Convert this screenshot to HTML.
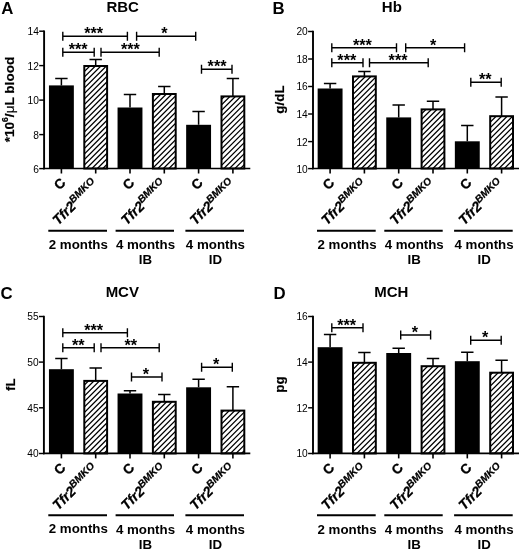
<!DOCTYPE html>
<html><head><meta charset="utf-8"><title>Figure</title>
<style>
html,body{margin:0;padding:0;background:#fff;}
svg{display:block;font-family:'Liberation Sans', Arial, Helvetica, sans-serif;}
</style></head>
<body>
<svg width="520" height="554" viewBox="0 0 520 554" font-family='"Liberation Sans", Arial, Helvetica, sans-serif' fill="#000">
<rect width="520" height="554" fill="#fff"/>
<g>
<text x="1.2" y="14.1" font-size="16.8" font-weight="bold">A</text>
<text x="122.7" y="12.1" font-size="15" font-weight="bold" text-anchor="middle">RBC</text>
<text transform="translate(13.5,99.5) rotate(-90)" font-size="13.6" font-weight="bold" text-anchor="middle" stroke="#000" stroke-width="0.2">*10<tspan font-size="8.5" dy="-6">6</tspan><tspan dy="6">/</tspan><tspan font-weight="normal">μ</tspan>L blood</text>
<path d="M44.1,30.48 V169.35" stroke="#000" stroke-width="1.9" fill="none"/>
<path d="M43.2,168.5 H250.3" stroke="#000" stroke-width="1.7" fill="none"/>
<path d="M39.2,31.2 H44.1" stroke="#000" stroke-width="1.45"/>
<text x="38.9" y="35.1" font-size="10.2" text-anchor="end">14</text>
<path d="M39.2,65.6 H44.1" stroke="#000" stroke-width="1.45"/>
<text x="38.9" y="69.5" font-size="10.2" text-anchor="end">12</text>
<path d="M39.2,100.1 H44.1" stroke="#000" stroke-width="1.45"/>
<text x="38.9" y="104.0" font-size="10.2" text-anchor="end">10</text>
<path d="M39.2,134.6 H44.1" stroke="#000" stroke-width="1.45"/>
<text x="38.9" y="138.5" font-size="10.2" text-anchor="end">8</text>
<path d="M39.2,168.6 H44.1" stroke="#000" stroke-width="1.45"/>
<text x="38.9" y="172.5" font-size="10.2" text-anchor="end">6</text>
<path d="M61.4,85.4 V78.5 M55.199999999999996,78.5 H67.6" stroke="#000" stroke-width="1.5" fill="none"/>
<rect x="48.95" y="85.40" width="24.9" height="83.10" fill="#000"/>
<path d="M61.4,168.5 v5" stroke="#000" stroke-width="1.6"/>
<text transform="translate(59.6,183.6) rotate(-45)" font-size="13.5" font-weight="bold" text-anchor="middle" dy="4.85" stroke="#000" stroke-width="0.3">C</text>
<path d="M95.69999999999999,65.8 V59.5 M89.49999999999999,59.5 H101.89999999999999" stroke="#000" stroke-width="1.5" fill="none"/>
<clipPath id="c1"><rect x="84.30" y="66.00" width="22.80" height="102.50"/></clipPath>
<path d="M83.30,67.10 L108.10,42.30M83.30,72.60 L108.10,47.80M83.30,78.10 L108.10,53.30M83.30,83.60 L108.10,58.80M83.30,89.10 L108.10,64.30M83.30,94.60 L108.10,69.80M83.30,100.10 L108.10,75.30M83.30,105.60 L108.10,80.80M83.30,111.10 L108.10,86.30M83.30,116.60 L108.10,91.80M83.30,122.10 L108.10,97.30M83.30,127.60 L108.10,102.80M83.30,133.10 L108.10,108.30M83.30,138.60 L108.10,113.80M83.30,144.10 L108.10,119.30M83.30,149.60 L108.10,124.80M83.30,155.10 L108.10,130.30M83.30,160.60 L108.10,135.80M83.30,166.10 L108.10,141.30M83.30,171.60 L108.10,146.80M83.30,177.10 L108.10,152.30M83.30,182.60 L108.10,157.80M83.30,188.10 L108.10,163.30" stroke="#000" stroke-width="1.3" fill="none" clip-path="url(#c1)"/>
<rect x="84.30" y="66.00" width="22.80" height="102.50" fill="none" stroke="#000" stroke-width="2"/>
<path d="M95.69999999999999,168.5 v5" stroke="#000" stroke-width="1.6"/>
<text transform="translate(98.79999999999998,185.3) rotate(-45)" font-size="13.9" font-weight="bold" font-style="italic" text-anchor="end" stroke="#000" stroke-width="0.25">Tfr2<tspan font-size="10.2" dy="-5.3">BMKO</tspan></text>
<path d="M130.0,107.5 V94.6 M123.8,94.6 H136.2" stroke="#000" stroke-width="1.5" fill="none"/>
<rect x="117.55" y="107.50" width="24.9" height="61.00" fill="#000"/>
<path d="M130.0,168.5 v5" stroke="#000" stroke-width="1.6"/>
<text transform="translate(128.2,183.6) rotate(-45)" font-size="13.5" font-weight="bold" text-anchor="middle" dy="4.85" stroke="#000" stroke-width="0.3">C</text>
<path d="M164.29999999999998,93.8 V86.5 M158.1,86.5 H170.49999999999997" stroke="#000" stroke-width="1.5" fill="none"/>
<clipPath id="c2"><rect x="152.90" y="94.00" width="22.80" height="74.50"/></clipPath>
<path d="M151.90,97.50 L176.70,72.70M151.90,103.00 L176.70,78.20M151.90,108.50 L176.70,83.70M151.90,114.00 L176.70,89.20M151.90,119.50 L176.70,94.70M151.90,125.00 L176.70,100.20M151.90,130.50 L176.70,105.70M151.90,136.00 L176.70,111.20M151.90,141.50 L176.70,116.70M151.90,147.00 L176.70,122.20M151.90,152.50 L176.70,127.70M151.90,158.00 L176.70,133.20M151.90,163.50 L176.70,138.70M151.90,169.00 L176.70,144.20M151.90,174.50 L176.70,149.70M151.90,180.00 L176.70,155.20M151.90,185.50 L176.70,160.70M151.90,191.00 L176.70,166.20" stroke="#000" stroke-width="1.3" fill="none" clip-path="url(#c2)"/>
<rect x="152.90" y="94.00" width="22.80" height="74.50" fill="none" stroke="#000" stroke-width="2"/>
<path d="M164.29999999999998,168.5 v5" stroke="#000" stroke-width="1.6"/>
<text transform="translate(167.39999999999998,185.3) rotate(-45)" font-size="13.9" font-weight="bold" font-style="italic" text-anchor="end" stroke="#000" stroke-width="0.25">Tfr2<tspan font-size="10.2" dy="-5.3">BMKO</tspan></text>
<path d="M198.6,124.8 V111.5 M192.4,111.5 H204.79999999999998" stroke="#000" stroke-width="1.5" fill="none"/>
<rect x="186.15" y="124.80" width="24.9" height="43.70" fill="#000"/>
<path d="M198.6,168.5 v5" stroke="#000" stroke-width="1.6"/>
<text transform="translate(196.79999999999998,183.6) rotate(-45)" font-size="13.5" font-weight="bold" text-anchor="middle" dy="4.85" stroke="#000" stroke-width="0.3">C</text>
<path d="M232.9,96.2 V78.5 M226.70000000000002,78.5 H239.1" stroke="#000" stroke-width="1.5" fill="none"/>
<clipPath id="c3"><rect x="221.50" y="96.40" width="22.80" height="72.10"/></clipPath>
<path d="M220.50,100.40 L245.30,75.60M220.50,105.90 L245.30,81.10M220.50,111.40 L245.30,86.60M220.50,116.90 L245.30,92.10M220.50,122.40 L245.30,97.60M220.50,127.90 L245.30,103.10M220.50,133.40 L245.30,108.60M220.50,138.90 L245.30,114.10M220.50,144.40 L245.30,119.60M220.50,149.90 L245.30,125.10M220.50,155.40 L245.30,130.60M220.50,160.90 L245.30,136.10M220.50,166.40 L245.30,141.60M220.50,171.90 L245.30,147.10M220.50,177.40 L245.30,152.60M220.50,182.90 L245.30,158.10M220.50,188.40 L245.30,163.60" stroke="#000" stroke-width="1.3" fill="none" clip-path="url(#c3)"/>
<rect x="221.50" y="96.40" width="22.80" height="72.10" fill="none" stroke="#000" stroke-width="2"/>
<path d="M232.9,168.5 v5" stroke="#000" stroke-width="1.6"/>
<text transform="translate(236.0,185.3) rotate(-45)" font-size="13.9" font-weight="bold" font-style="italic" text-anchor="end" stroke="#000" stroke-width="0.25">Tfr2<tspan font-size="10.2" dy="-5.3">BMKO</tspan></text>
<path d="M62.8,31.700000000000003 V40.7 M127.4,31.700000000000003 V40.7 M62.8,36.2 H127.4" stroke="#000" stroke-width="1.4" fill="none"/>
<text x="93.6" y="39.300000000000004" font-size="16.2" font-weight="bold" text-anchor="middle">***</text>
<path d="M62.8,47.8 V56.8 M94.2,47.8 V56.8 M62.8,52.3 H94.2" stroke="#000" stroke-width="1.4" fill="none"/>
<text x="78.2" y="55.4" font-size="16.2" font-weight="bold" text-anchor="middle">***</text>
<path d="M101,47.8 V56.8 M159.2,47.8 V56.8 M101,52.3 H159.2" stroke="#000" stroke-width="1.4" fill="none"/>
<text x="130.45" y="55.4" font-size="16.2" font-weight="bold" text-anchor="middle">***</text>
<path d="M136.6,31.700000000000003 V40.7 M195.7,31.700000000000003 V40.7 M136.6,36.2 H195.7" stroke="#000" stroke-width="1.4" fill="none"/>
<text x="164.45" y="39.300000000000004" font-size="16.2" font-weight="bold" text-anchor="middle">*</text>
<path d="M201.5,64.7 V73.7 M232,64.7 V73.7 M201.5,69.2 H232" stroke="#000" stroke-width="1.4" fill="none"/>
<text x="217.05" y="72.3" font-size="16.2" font-weight="bold" text-anchor="middle">***</text>
<path d="M48.3,230.7 H107" stroke="#000" stroke-width="1.9"/>
<text x="78.35000000000001" y="248.7" font-size="13.3" font-weight="bold" text-anchor="middle">2 months</text>
<path d="M115.6,230.7 H174" stroke="#000" stroke-width="1.9"/>
<text x="145.5" y="248.7" font-size="13.3" font-weight="bold" text-anchor="middle">4 months</text>
<text x="145.5" y="264" font-size="13.3" font-weight="bold" text-anchor="middle">IB</text>
<path d="M185.4,230.7 H244" stroke="#000" stroke-width="1.9"/>
<text x="215.39999999999998" y="248.7" font-size="13.3" font-weight="bold" text-anchor="middle">4 months</text>
<text x="215.39999999999998" y="264" font-size="13.3" font-weight="bold" text-anchor="middle">ID</text>
</g>
<g>
<text x="272.6" y="14.1" font-size="16.8" font-weight="bold">B</text>
<text x="391.8" y="12.1" font-size="15" font-weight="bold" text-anchor="middle">Hb</text>
<text transform="translate(283.6,99.5) rotate(-90)" font-size="13.4" font-weight="bold" text-anchor="middle" stroke="#000" stroke-width="0.2">g/dL</text>
<path d="M313.0,30.78 V169.35" stroke="#000" stroke-width="1.9" fill="none"/>
<path d="M312.1,168.5 H519.0" stroke="#000" stroke-width="1.7" fill="none"/>
<path d="M308.1,31.5 H313.0" stroke="#000" stroke-width="1.45"/>
<text x="307.8" y="35.4" font-size="10.2" text-anchor="end">20</text>
<path d="M308.1,59 H313.0" stroke="#000" stroke-width="1.45"/>
<text x="307.8" y="62.9" font-size="10.2" text-anchor="end">18</text>
<path d="M308.1,86.5 H313.0" stroke="#000" stroke-width="1.45"/>
<text x="307.8" y="90.4" font-size="10.2" text-anchor="end">16</text>
<path d="M308.1,114 H313.0" stroke="#000" stroke-width="1.45"/>
<text x="307.8" y="117.9" font-size="10.2" text-anchor="end">14</text>
<path d="M308.1,141.6 H313.0" stroke="#000" stroke-width="1.45"/>
<text x="307.8" y="145.5" font-size="10.2" text-anchor="end">12</text>
<path d="M308.1,168.6 H313.0" stroke="#000" stroke-width="1.45"/>
<text x="307.8" y="172.5" font-size="10.2" text-anchor="end">10</text>
<path d="M330.09999999999997,88.5 V83.5 M323.9,83.5 H336.29999999999995" stroke="#000" stroke-width="1.5" fill="none"/>
<rect x="317.65" y="88.50" width="24.9" height="80.00" fill="#000"/>
<path d="M330.09999999999997,168.5 v5" stroke="#000" stroke-width="1.6"/>
<text transform="translate(328.29999999999995,183.6) rotate(-45)" font-size="13.5" font-weight="bold" text-anchor="middle" dy="4.85" stroke="#000" stroke-width="0.3">C</text>
<path d="M364.4,76.2 V71.5 M358.2,71.5 H370.59999999999997" stroke="#000" stroke-width="1.5" fill="none"/>
<clipPath id="c4"><rect x="353.00" y="76.40" width="22.80" height="92.10"/></clipPath>
<path d="M352.00,78.90 L376.80,54.10M352.00,84.40 L376.80,59.60M352.00,89.90 L376.80,65.10M352.00,95.40 L376.80,70.60M352.00,100.90 L376.80,76.10M352.00,106.40 L376.80,81.60M352.00,111.90 L376.80,87.10M352.00,117.40 L376.80,92.60M352.00,122.90 L376.80,98.10M352.00,128.40 L376.80,103.60M352.00,133.90 L376.80,109.10M352.00,139.40 L376.80,114.60M352.00,144.90 L376.80,120.10M352.00,150.40 L376.80,125.60M352.00,155.90 L376.80,131.10M352.00,161.40 L376.80,136.60M352.00,166.90 L376.80,142.10M352.00,172.40 L376.80,147.60M352.00,177.90 L376.80,153.10M352.00,183.40 L376.80,158.60M352.00,188.90 L376.80,164.10" stroke="#000" stroke-width="1.3" fill="none" clip-path="url(#c4)"/>
<rect x="353.00" y="76.40" width="22.80" height="92.10" fill="none" stroke="#000" stroke-width="2"/>
<path d="M364.4,168.5 v5" stroke="#000" stroke-width="1.6"/>
<text transform="translate(367.5,185.3) rotate(-45)" font-size="13.9" font-weight="bold" font-style="italic" text-anchor="end" stroke="#000" stroke-width="0.25">Tfr2<tspan font-size="10.2" dy="-5.3">BMKO</tspan></text>
<path d="M398.69999999999993,117.4 V105 M392.49999999999994,105 H404.8999999999999" stroke="#000" stroke-width="1.5" fill="none"/>
<rect x="386.25" y="117.40" width="24.9" height="51.10" fill="#000"/>
<path d="M398.69999999999993,168.5 v5" stroke="#000" stroke-width="1.6"/>
<text transform="translate(396.8999999999999,183.6) rotate(-45)" font-size="13.5" font-weight="bold" text-anchor="middle" dy="4.85" stroke="#000" stroke-width="0.3">C</text>
<path d="M432.99999999999994,109.2 V101.2 M426.79999999999995,101.2 H439.19999999999993" stroke="#000" stroke-width="1.5" fill="none"/>
<clipPath id="c5"><rect x="421.60" y="109.40" width="22.80" height="59.10"/></clipPath>
<path d="M420.60,114.80 L445.40,90.00M420.60,120.30 L445.40,95.50M420.60,125.80 L445.40,101.00M420.60,131.30 L445.40,106.50M420.60,136.80 L445.40,112.00M420.60,142.30 L445.40,117.50M420.60,147.80 L445.40,123.00M420.60,153.30 L445.40,128.50M420.60,158.80 L445.40,134.00M420.60,164.30 L445.40,139.50M420.60,169.80 L445.40,145.00M420.60,175.30 L445.40,150.50M420.60,180.80 L445.40,156.00M420.60,186.30 L445.40,161.50M420.60,191.80 L445.40,167.00" stroke="#000" stroke-width="1.3" fill="none" clip-path="url(#c5)"/>
<rect x="421.60" y="109.40" width="22.80" height="59.10" fill="none" stroke="#000" stroke-width="2"/>
<path d="M432.99999999999994,168.5 v5" stroke="#000" stroke-width="1.6"/>
<text transform="translate(436.09999999999997,185.3) rotate(-45)" font-size="13.9" font-weight="bold" font-style="italic" text-anchor="end" stroke="#000" stroke-width="0.25">Tfr2<tspan font-size="10.2" dy="-5.3">BMKO</tspan></text>
<path d="M467.29999999999995,141.3 V125.5 M461.09999999999997,125.5 H473.49999999999994" stroke="#000" stroke-width="1.5" fill="none"/>
<rect x="454.85" y="141.30" width="24.9" height="27.20" fill="#000"/>
<path d="M467.29999999999995,168.5 v5" stroke="#000" stroke-width="1.6"/>
<text transform="translate(465.49999999999994,183.6) rotate(-45)" font-size="13.5" font-weight="bold" text-anchor="middle" dy="4.85" stroke="#000" stroke-width="0.3">C</text>
<path d="M501.59999999999997,116 V97 M495.4,97 H507.79999999999995" stroke="#000" stroke-width="1.5" fill="none"/>
<clipPath id="c6"><rect x="490.20" y="116.20" width="22.80" height="52.30"/></clipPath>
<path d="M489.20,117.70 L514.00,92.90M489.20,123.20 L514.00,98.40M489.20,128.70 L514.00,103.90M489.20,134.20 L514.00,109.40M489.20,139.70 L514.00,114.90M489.20,145.20 L514.00,120.40M489.20,150.70 L514.00,125.90M489.20,156.20 L514.00,131.40M489.20,161.70 L514.00,136.90M489.20,167.20 L514.00,142.40M489.20,172.70 L514.00,147.90M489.20,178.20 L514.00,153.40M489.20,183.70 L514.00,158.90M489.20,189.20 L514.00,164.40" stroke="#000" stroke-width="1.3" fill="none" clip-path="url(#c6)"/>
<rect x="490.20" y="116.20" width="22.80" height="52.30" fill="none" stroke="#000" stroke-width="2"/>
<path d="M501.59999999999997,168.5 v5" stroke="#000" stroke-width="1.6"/>
<text transform="translate(504.7,185.3) rotate(-45)" font-size="13.9" font-weight="bold" font-style="italic" text-anchor="end" stroke="#000" stroke-width="0.25">Tfr2<tspan font-size="10.2" dy="-5.3">BMKO</tspan></text>
<path d="M331.8,43.2 V52.2 M396.5,43.2 V52.2 M331.8,47.7 H396.5" stroke="#000" stroke-width="1.4" fill="none"/>
<text x="362.45" y="50.800000000000004" font-size="16.2" font-weight="bold" text-anchor="middle">***</text>
<path d="M331.8,58.3 V67.3 M363,58.3 V67.3 M331.8,62.8 H363" stroke="#000" stroke-width="1.4" fill="none"/>
<text x="346.8" y="65.89999999999999" font-size="16.2" font-weight="bold" text-anchor="middle">***</text>
<path d="M369.5,58.3 V67.3 M428.2,58.3 V67.3 M369.5,62.8 H428.2" stroke="#000" stroke-width="1.4" fill="none"/>
<text x="398.05" y="65.89999999999999" font-size="16.2" font-weight="bold" text-anchor="middle">***</text>
<path d="M405.7,43.2 V52.2 M464.6,43.2 V52.2 M405.7,47.7 H464.6" stroke="#000" stroke-width="1.4" fill="none"/>
<text x="433.15" y="50.800000000000004" font-size="16.2" font-weight="bold" text-anchor="middle">*</text>
<path d="M470.8,77.8 V86.8 M501.2,77.8 V86.8 M470.8,82.3 H501.2" stroke="#000" stroke-width="1.4" fill="none"/>
<text x="485.2" y="85.39999999999999" font-size="16.2" font-weight="bold" text-anchor="middle">**</text>
<path d="M317.0,230.7 H375.7" stroke="#000" stroke-width="1.9"/>
<text x="347.05" y="248.7" font-size="13.3" font-weight="bold" text-anchor="middle">2 months</text>
<path d="M384.29999999999995,230.7 H442.7" stroke="#000" stroke-width="1.9"/>
<text x="414.2" y="248.7" font-size="13.3" font-weight="bold" text-anchor="middle">4 months</text>
<text x="414.2" y="264" font-size="13.3" font-weight="bold" text-anchor="middle">IB</text>
<path d="M454.1,230.7 H512.7" stroke="#000" stroke-width="1.9"/>
<text x="484.09999999999997" y="248.7" font-size="13.3" font-weight="bold" text-anchor="middle">4 months</text>
<text x="484.09999999999997" y="264" font-size="13.3" font-weight="bold" text-anchor="middle">ID</text>
</g>
<g>
<text x="0.6" y="299" font-size="16.8" font-weight="bold">C</text>
<text x="122.3" y="297.1" font-size="15" font-weight="bold" text-anchor="middle">MCV</text>
<text transform="translate(14.9,384.7) rotate(-90)" font-size="13.4" font-weight="bold" text-anchor="middle" stroke="#000" stroke-width="0.2">fL</text>
<path d="M43.9,315.78 V454.25" stroke="#000" stroke-width="1.9" fill="none"/>
<path d="M43.0,453.4 H250.3" stroke="#000" stroke-width="1.7" fill="none"/>
<path d="M39.0,316.5 H43.9" stroke="#000" stroke-width="1.45"/>
<text x="38.699999999999996" y="320.4" font-size="10.2" text-anchor="end">55</text>
<path d="M39.0,362.1 H43.9" stroke="#000" stroke-width="1.45"/>
<text x="38.699999999999996" y="366.0" font-size="10.2" text-anchor="end">50</text>
<path d="M39.0,407.8 H43.9" stroke="#000" stroke-width="1.45"/>
<text x="38.699999999999996" y="411.7" font-size="10.2" text-anchor="end">45</text>
<path d="M39.0,453.5 H43.9" stroke="#000" stroke-width="1.45"/>
<text x="38.699999999999996" y="457.4" font-size="10.2" text-anchor="end">40</text>
<path d="M61.4,369.2 V358.5 M55.199999999999996,358.5 H67.6" stroke="#000" stroke-width="1.5" fill="none"/>
<rect x="48.95" y="369.20" width="24.9" height="84.20" fill="#000"/>
<path d="M61.4,453.4 v5" stroke="#000" stroke-width="1.6"/>
<text transform="translate(59.6,468.5) rotate(-45)" font-size="13.5" font-weight="bold" text-anchor="middle" dy="4.85" stroke="#000" stroke-width="0.3">C</text>
<path d="M95.69999999999999,380.7 V368 M89.49999999999999,368 H101.89999999999999" stroke="#000" stroke-width="1.5" fill="none"/>
<clipPath id="c7"><rect x="84.30" y="380.90" width="22.80" height="72.50"/></clipPath>
<path d="M83.30,386.10 L108.10,361.30M83.30,391.60 L108.10,366.80M83.30,397.10 L108.10,372.30M83.30,402.60 L108.10,377.80M83.30,408.10 L108.10,383.30M83.30,413.60 L108.10,388.80M83.30,419.10 L108.10,394.30M83.30,424.60 L108.10,399.80M83.30,430.10 L108.10,405.30M83.30,435.60 L108.10,410.80M83.30,441.10 L108.10,416.30M83.30,446.60 L108.10,421.80M83.30,452.10 L108.10,427.30M83.30,457.60 L108.10,432.80M83.30,463.10 L108.10,438.30M83.30,468.60 L108.10,443.80M83.30,474.10 L108.10,449.30" stroke="#000" stroke-width="1.3" fill="none" clip-path="url(#c7)"/>
<rect x="84.30" y="380.90" width="22.80" height="72.50" fill="none" stroke="#000" stroke-width="2"/>
<path d="M95.69999999999999,453.4 v5" stroke="#000" stroke-width="1.6"/>
<text transform="translate(98.79999999999998,470.2) rotate(-45)" font-size="13.9" font-weight="bold" font-style="italic" text-anchor="end" stroke="#000" stroke-width="0.25">Tfr2<tspan font-size="10.2" dy="-5.3">BMKO</tspan></text>
<path d="M130.0,393.5 V390.7 M123.8,390.7 H136.2" stroke="#000" stroke-width="1.5" fill="none"/>
<rect x="117.55" y="393.50" width="24.9" height="59.90" fill="#000"/>
<path d="M130.0,453.4 v5" stroke="#000" stroke-width="1.6"/>
<text transform="translate(128.2,468.5) rotate(-45)" font-size="13.5" font-weight="bold" text-anchor="middle" dy="4.85" stroke="#000" stroke-width="0.3">C</text>
<path d="M164.29999999999998,401.6 V394.6 M158.1,394.6 H170.49999999999997" stroke="#000" stroke-width="1.5" fill="none"/>
<clipPath id="c8"><rect x="152.90" y="401.80" width="22.80" height="51.60"/></clipPath>
<path d="M151.90,405.50 L176.70,380.70M151.90,411.00 L176.70,386.20M151.90,416.50 L176.70,391.70M151.90,422.00 L176.70,397.20M151.90,427.50 L176.70,402.70M151.90,433.00 L176.70,408.20M151.90,438.50 L176.70,413.70M151.90,444.00 L176.70,419.20M151.90,449.50 L176.70,424.70M151.90,455.00 L176.70,430.20M151.90,460.50 L176.70,435.70M151.90,466.00 L176.70,441.20M151.90,471.50 L176.70,446.70M151.90,477.00 L176.70,452.20" stroke="#000" stroke-width="1.3" fill="none" clip-path="url(#c8)"/>
<rect x="152.90" y="401.80" width="22.80" height="51.60" fill="none" stroke="#000" stroke-width="2"/>
<path d="M164.29999999999998,453.4 v5" stroke="#000" stroke-width="1.6"/>
<text transform="translate(167.39999999999998,470.2) rotate(-45)" font-size="13.9" font-weight="bold" font-style="italic" text-anchor="end" stroke="#000" stroke-width="0.25">Tfr2<tspan font-size="10.2" dy="-5.3">BMKO</tspan></text>
<path d="M198.6,387.3 V379.2 M192.4,379.2 H204.79999999999998" stroke="#000" stroke-width="1.5" fill="none"/>
<rect x="186.15" y="387.30" width="24.9" height="66.10" fill="#000"/>
<path d="M198.6,453.4 v5" stroke="#000" stroke-width="1.6"/>
<text transform="translate(196.79999999999998,468.5) rotate(-45)" font-size="13.5" font-weight="bold" text-anchor="middle" dy="4.85" stroke="#000" stroke-width="0.3">C</text>
<path d="M232.9,410.4 V386.8 M226.70000000000002,386.8 H239.1" stroke="#000" stroke-width="1.5" fill="none"/>
<clipPath id="c9"><rect x="221.50" y="410.60" width="22.80" height="42.80"/></clipPath>
<path d="M220.50,413.90 L245.30,389.10M220.50,419.40 L245.30,394.60M220.50,424.90 L245.30,400.10M220.50,430.40 L245.30,405.60M220.50,435.90 L245.30,411.10M220.50,441.40 L245.30,416.60M220.50,446.90 L245.30,422.10M220.50,452.40 L245.30,427.60M220.50,457.90 L245.30,433.10M220.50,463.40 L245.30,438.60M220.50,468.90 L245.30,444.10M220.50,474.40 L245.30,449.60" stroke="#000" stroke-width="1.3" fill="none" clip-path="url(#c9)"/>
<rect x="221.50" y="410.60" width="22.80" height="42.80" fill="none" stroke="#000" stroke-width="2"/>
<path d="M232.9,453.4 v5" stroke="#000" stroke-width="1.6"/>
<text transform="translate(236.0,470.2) rotate(-45)" font-size="13.9" font-weight="bold" font-style="italic" text-anchor="end" stroke="#000" stroke-width="0.25">Tfr2<tspan font-size="10.2" dy="-5.3">BMKO</tspan></text>
<path d="M62.8,328.3 V337.3 M127.4,328.3 V337.3 M62.8,332.8 H127.4" stroke="#000" stroke-width="1.4" fill="none"/>
<text x="93.6" y="335.90000000000003" font-size="16.2" font-weight="bold" text-anchor="middle">***</text>
<path d="M62.8,343.3 V352.3 M94.2,343.3 V352.3 M62.8,347.8 H94.2" stroke="#000" stroke-width="1.4" fill="none"/>
<text x="78.3" y="350.90000000000003" font-size="16.2" font-weight="bold" text-anchor="middle">**</text>
<path d="M101,343.3 V352.3 M159.2,343.3 V352.3 M101,347.8 H159.2" stroke="#000" stroke-width="1.4" fill="none"/>
<text x="130.8" y="350.90000000000003" font-size="16.2" font-weight="bold" text-anchor="middle">**</text>
<path d="M131.5,372.5 V381.5 M162,372.5 V381.5 M131.5,377 H162" stroke="#000" stroke-width="1.4" fill="none"/>
<text x="145.95" y="380.1" font-size="16.2" font-weight="bold" text-anchor="middle">*</text>
<path d="M201.6,362.7 V371.7 M232.3,362.7 V371.7 M201.6,367.2 H232.3" stroke="#000" stroke-width="1.4" fill="none"/>
<text x="216.14999999999998" y="370.3" font-size="16.2" font-weight="bold" text-anchor="middle">*</text>
<path d="M48.3,515.3 H107" stroke="#000" stroke-width="1.9"/>
<text x="78.35000000000001" y="532.5" font-size="13.3" font-weight="bold" text-anchor="middle">2 months</text>
<path d="M115.6,515.3 H174" stroke="#000" stroke-width="1.9"/>
<text x="145.5" y="533.7" font-size="13.3" font-weight="bold" text-anchor="middle">4 months</text>
<text x="145.5" y="549" font-size="13.3" font-weight="bold" text-anchor="middle">IB</text>
<path d="M185.4,515.3 H244" stroke="#000" stroke-width="1.9"/>
<text x="215.39999999999998" y="533.7" font-size="13.3" font-weight="bold" text-anchor="middle">4 months</text>
<text x="215.39999999999998" y="549" font-size="13.3" font-weight="bold" text-anchor="middle">ID</text>
</g>
<g>
<text x="273.4" y="299" font-size="16.8" font-weight="bold">D</text>
<text x="391.3" y="297.1" font-size="15" font-weight="bold" text-anchor="middle">MCH</text>
<text transform="translate(283.6,384.6) rotate(-90)" font-size="13.4" font-weight="bold" text-anchor="middle" stroke="#000" stroke-width="0.2">pg</text>
<path d="M313.0,315.78 V454.25" stroke="#000" stroke-width="1.9" fill="none"/>
<path d="M312.1,453.4 H519.0" stroke="#000" stroke-width="1.7" fill="none"/>
<path d="M308.1,316.5 H313.0" stroke="#000" stroke-width="1.45"/>
<text x="307.8" y="320.4" font-size="10.2" text-anchor="end">16</text>
<path d="M308.1,362.1 H313.0" stroke="#000" stroke-width="1.45"/>
<text x="307.8" y="366.0" font-size="10.2" text-anchor="end">14</text>
<path d="M308.1,407.8 H313.0" stroke="#000" stroke-width="1.45"/>
<text x="307.8" y="411.7" font-size="10.2" text-anchor="end">12</text>
<path d="M308.1,453.5 H313.0" stroke="#000" stroke-width="1.45"/>
<text x="307.8" y="457.4" font-size="10.2" text-anchor="end">10</text>
<path d="M330.09999999999997,347.2 V334.6 M323.9,334.6 H336.29999999999995" stroke="#000" stroke-width="1.5" fill="none"/>
<rect x="317.65" y="347.20" width="24.9" height="106.20" fill="#000"/>
<path d="M330.09999999999997,453.4 v5" stroke="#000" stroke-width="1.6"/>
<text transform="translate(328.29999999999995,468.5) rotate(-45)" font-size="13.5" font-weight="bold" text-anchor="middle" dy="4.85" stroke="#000" stroke-width="0.3">C</text>
<path d="M364.4,362.6 V352.6 M358.2,352.6 H370.59999999999997" stroke="#000" stroke-width="1.5" fill="none"/>
<clipPath id="c10"><rect x="353.00" y="362.80" width="22.80" height="90.60"/></clipPath>
<path d="M352.00,364.90 L376.80,340.10M352.00,370.40 L376.80,345.60M352.00,375.90 L376.80,351.10M352.00,381.40 L376.80,356.60M352.00,386.90 L376.80,362.10M352.00,392.40 L376.80,367.60M352.00,397.90 L376.80,373.10M352.00,403.40 L376.80,378.60M352.00,408.90 L376.80,384.10M352.00,414.40 L376.80,389.60M352.00,419.90 L376.80,395.10M352.00,425.40 L376.80,400.60M352.00,430.90 L376.80,406.10M352.00,436.40 L376.80,411.60M352.00,441.90 L376.80,417.10M352.00,447.40 L376.80,422.60M352.00,452.90 L376.80,428.10M352.00,458.40 L376.80,433.60M352.00,463.90 L376.80,439.10M352.00,469.40 L376.80,444.60M352.00,474.90 L376.80,450.10" stroke="#000" stroke-width="1.3" fill="none" clip-path="url(#c10)"/>
<rect x="353.00" y="362.80" width="22.80" height="90.60" fill="none" stroke="#000" stroke-width="2"/>
<path d="M364.4,453.4 v5" stroke="#000" stroke-width="1.6"/>
<text transform="translate(367.5,470.2) rotate(-45)" font-size="13.9" font-weight="bold" font-style="italic" text-anchor="end" stroke="#000" stroke-width="0.25">Tfr2<tspan font-size="10.2" dy="-5.3">BMKO</tspan></text>
<path d="M398.69999999999993,353 V348.2 M392.49999999999994,348.2 H404.8999999999999" stroke="#000" stroke-width="1.5" fill="none"/>
<rect x="386.25" y="353.00" width="24.9" height="100.40" fill="#000"/>
<path d="M398.69999999999993,453.4 v5" stroke="#000" stroke-width="1.6"/>
<text transform="translate(396.8999999999999,468.5) rotate(-45)" font-size="13.5" font-weight="bold" text-anchor="middle" dy="4.85" stroke="#000" stroke-width="0.3">C</text>
<path d="M432.99999999999994,366 V358.5 M426.79999999999995,358.5 H439.19999999999993" stroke="#000" stroke-width="1.5" fill="none"/>
<clipPath id="c11"><rect x="421.60" y="366.20" width="22.80" height="87.20"/></clipPath>
<path d="M420.60,367.80 L445.40,343.00M420.60,373.30 L445.40,348.50M420.60,378.80 L445.40,354.00M420.60,384.30 L445.40,359.50M420.60,389.80 L445.40,365.00M420.60,395.30 L445.40,370.50M420.60,400.80 L445.40,376.00M420.60,406.30 L445.40,381.50M420.60,411.80 L445.40,387.00M420.60,417.30 L445.40,392.50M420.60,422.80 L445.40,398.00M420.60,428.30 L445.40,403.50M420.60,433.80 L445.40,409.00M420.60,439.30 L445.40,414.50M420.60,444.80 L445.40,420.00M420.60,450.30 L445.40,425.50M420.60,455.80 L445.40,431.00M420.60,461.30 L445.40,436.50M420.60,466.80 L445.40,442.00M420.60,472.30 L445.40,447.50" stroke="#000" stroke-width="1.3" fill="none" clip-path="url(#c11)"/>
<rect x="421.60" y="366.20" width="22.80" height="87.20" fill="none" stroke="#000" stroke-width="2"/>
<path d="M432.99999999999994,453.4 v5" stroke="#000" stroke-width="1.6"/>
<text transform="translate(436.09999999999997,470.2) rotate(-45)" font-size="13.9" font-weight="bold" font-style="italic" text-anchor="end" stroke="#000" stroke-width="0.25">Tfr2<tspan font-size="10.2" dy="-5.3">BMKO</tspan></text>
<path d="M467.29999999999995,361.2 V352.3 M461.09999999999997,352.3 H473.49999999999994" stroke="#000" stroke-width="1.5" fill="none"/>
<rect x="454.85" y="361.20" width="24.9" height="92.20" fill="#000"/>
<path d="M467.29999999999995,453.4 v5" stroke="#000" stroke-width="1.6"/>
<text transform="translate(465.49999999999994,468.5) rotate(-45)" font-size="13.5" font-weight="bold" text-anchor="middle" dy="4.85" stroke="#000" stroke-width="0.3">C</text>
<path d="M501.59999999999997,372.5 V360.3 M495.4,360.3 H507.79999999999995" stroke="#000" stroke-width="1.5" fill="none"/>
<clipPath id="c12"><rect x="490.20" y="372.70" width="22.80" height="80.70"/></clipPath>
<path d="M489.20,376.20 L514.00,351.40M489.20,381.70 L514.00,356.90M489.20,387.20 L514.00,362.40M489.20,392.70 L514.00,367.90M489.20,398.20 L514.00,373.40M489.20,403.70 L514.00,378.90M489.20,409.20 L514.00,384.40M489.20,414.70 L514.00,389.90M489.20,420.20 L514.00,395.40M489.20,425.70 L514.00,400.90M489.20,431.20 L514.00,406.40M489.20,436.70 L514.00,411.90M489.20,442.20 L514.00,417.40M489.20,447.70 L514.00,422.90M489.20,453.20 L514.00,428.40M489.20,458.70 L514.00,433.90M489.20,464.20 L514.00,439.40M489.20,469.70 L514.00,444.90M489.20,475.20 L514.00,450.40" stroke="#000" stroke-width="1.3" fill="none" clip-path="url(#c12)"/>
<rect x="490.20" y="372.70" width="22.80" height="80.70" fill="none" stroke="#000" stroke-width="2"/>
<path d="M501.59999999999997,453.4 v5" stroke="#000" stroke-width="1.6"/>
<text transform="translate(504.7,470.2) rotate(-45)" font-size="13.9" font-weight="bold" font-style="italic" text-anchor="end" stroke="#000" stroke-width="0.25">Tfr2<tspan font-size="10.2" dy="-5.3">BMKO</tspan></text>
<path d="M331.8,323.2 V332.2 M363,323.2 V332.2 M331.8,327.7 H363" stroke="#000" stroke-width="1.4" fill="none"/>
<text x="346.59999999999997" y="330.8" font-size="16.2" font-weight="bold" text-anchor="middle">***</text>
<path d="M400.7,330.5 V339.5 M430.6,330.5 V339.5 M400.7,335 H430.6" stroke="#000" stroke-width="1.4" fill="none"/>
<text x="414.84999999999997" y="338.1" font-size="16.2" font-weight="bold" text-anchor="middle">*</text>
<path d="M470.7,335.7 V344.7 M501.2,335.7 V344.7 M470.7,340.2 H501.2" stroke="#000" stroke-width="1.4" fill="none"/>
<text x="485.15" y="343.3" font-size="16.2" font-weight="bold" text-anchor="middle">*</text>
<path d="M317.0,515.3 H375.7" stroke="#000" stroke-width="1.9"/>
<text x="347.05" y="533.7" font-size="13.3" font-weight="bold" text-anchor="middle">2 months</text>
<path d="M384.29999999999995,515.3 H442.7" stroke="#000" stroke-width="1.9"/>
<text x="414.2" y="533.7" font-size="13.3" font-weight="bold" text-anchor="middle">4 months</text>
<text x="414.2" y="549" font-size="13.3" font-weight="bold" text-anchor="middle">IB</text>
<path d="M454.1,515.3 H512.7" stroke="#000" stroke-width="1.9"/>
<text x="484.09999999999997" y="533.7" font-size="13.3" font-weight="bold" text-anchor="middle">4 months</text>
<text x="484.09999999999997" y="549" font-size="13.3" font-weight="bold" text-anchor="middle">ID</text>
</g>
</svg>
</body></html>
